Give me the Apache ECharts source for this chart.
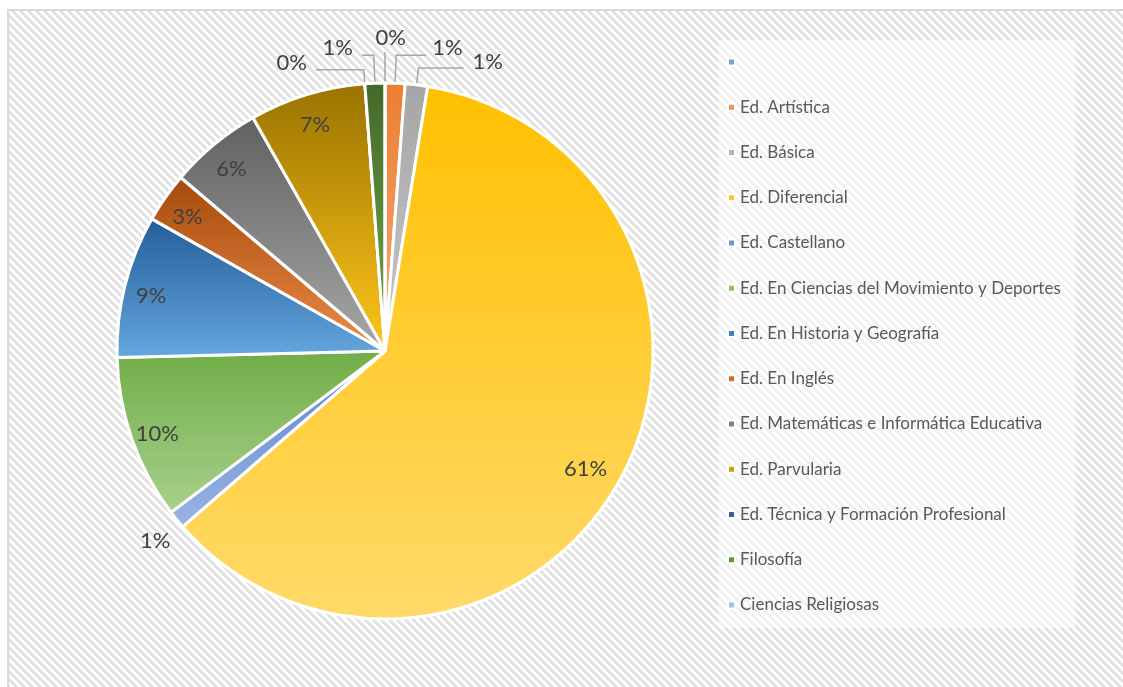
<!DOCTYPE html>
<html>
<head>
<meta charset="utf-8">
<style>
  body{ margin:0; background:#fff; }
  #main{ width:1123px; height:687px; }
</style>
<script src="https://cdn.jsdelivr.net/npm/echarts@6/dist/echarts.min.js"></script>
</head>
<body>
<div id="main"></div>
<script>
// datos
var categories = [' ', 'Ed. Artística', 'Ed. Básica', 'Ed. Diferencial', 'Ed. Castellano',
  'Ed. En Ciencias del Movimiento y Deportes', 'Ed. En Historia y Geografía', 'Ed. En Inglés',
  'Ed. Matemáticas e Informática Educativa', 'Ed. Parvularia', 'Ed. Técnica y Formación Profesional',
  'Filosofía', 'Ciencias Religiosas'];
var values = [null, 1.2, 1.35, 61.1, 1.1, 9.9, 8.6, 3.0, 5.6, 7.0, 0, 1.2, 0];

// colores (arriba oscuro -> abajo claro) y color de leyenda
var sliceTop = ['#5b9bd5', '#ed7d31', '#a5a5a5', '#ffc000', '#5b84cc', '#70ad47', '#235d96', '#a44a0c', '#606060', '#9a7300', '#264478', '#43682b', '#7cafdd'];
var sliceBottom = ['#9dc3e6', '#f4ac7a', '#c9c9c9', '#ffda6a', '#9bb5e3', '#a9d18e', '#65a7e0', '#ee8c48', '#a8a8a8', '#ffc61a', '#4472c4', '#70ad47', '#bdd7ee'];
var legendColors = ['#6fa8dc', '#f0955a', '#b4b4b4', '#ffc933', '#6e96d6', '#8cc168', '#3b82c4', '#d9681f', '#7f7f7f', '#cfa000', '#3a60a8', '#5b9a3b', '#9dc3e6'];

// etiquetas dentro (grandes) / fuera (chicas)
var insideIdx = [3, 5, 6, 7, 8, 9];
// largo de lineas guia para etiquetas de afuera
var leader = {
  1: [28, 30], 2: [17, 45], 4: [16, 0], 10: [14, 48], 11: [28, 12], 12: [30, 1]
};
// pequeños corrimientos de texto
var shiftOut = { 1: [2, -7], 2: [5, -6], 4: [10, 11], 10: [-5, -7], 11: [-5, -7], 12: [26, -15] };
var shiftIn = { 3: [-10, 1] };

function stripes() {
  var c = document.createElement('canvas');
  c.width = 8; c.height = 8;
  var g = c.getContext('2d');
  g.fillStyle = '#ffffff';
  g.fillRect(0, 0, 8, 8);
  g.fillStyle = '#e2e2e2';
  for (var y = 0; y < 8; y++) {
    for (var x = 0; x < 8; x++) {
      if (((x - y) % 8 + 8) % 8 < 4) g.fillRect(x, y, 1, 1);
    }
  }
  return c;
}

var font = 'Lato, "Open Sans", sans-serif';
var pct = function (p) { return Math.round(p.percent) + '%'; };

var outerData = [], innerData = [];
categories.forEach(function (name, i) {
  var inside = insideIdx.indexOf(i) >= 0;
  var ll = leader[i] || [15, 15];
  outerData.push({
    name: name,
    value: values[i],
    itemStyle: {
      color: { type: 'linear', x: 0, y: 0, x2: 0, y2: 1,
        colorStops: [{ offset: 0, color: sliceTop[i] }, { offset: 1, color: sliceBottom[i] }] }
    },
    label: { show: !inside && values[i] != null },
    labelLine: { show: !inside && values[i] != null && i !== 4, length: ll[0], length2: ll[1] }
  });
  innerData.push({
    name: name,
    value: values[i],
    label: { show: inside }
  });
});

var chart = echarts.init(document.getElementById('main'));
chart.setOption({
  backgroundColor: '#ffffff',
  animation: false,
  graphic: [{
    type: 'rect',
    z: -10,
    shape: { x: 8, y: 10, width: 1130, height: 690 },
    style: { fill: { image: stripes(), repeat: 'repeat' }, stroke: '#d9d9d9', lineWidth: 2 }
  }],
  legend: {
    orient: 'vertical',
    left: 718,
    top: 40,
    padding: [12, 15, 13, 9],
    backgroundColor: 'rgba(255,255,255,0.5)',
    icon: 'rect',
    itemWidth: 7,
    itemHeight: 7,
    itemGap: 25.25,
    textStyle: { fontFamily: font, fontSize: 17, color: '#595959', lineHeight: 20 },
    data: categories.map(function (n, i) { return { name: n, itemStyle: { color: legendColors[i] } }; })
  },
  series: [{
    type: 'pie',
    center: [385, 351],
    radius: [0, 268],
    startAngle: 90,
    avoidLabelOverlap: false,
    silent: true,
    itemStyle: { borderColor: '#ffffff', borderWidth: 3 },
    label: { position: 'outside', formatter: pct, fontFamily: font, fontSize: 22, color: '#404040',
      distanceToLabelLine: 4 },
    labelLine: { lineStyle: { color: '#a6a6a6', width: 1.5 } },
    labelLayout: function (p) {
      var s = shiftOut[p.dataIndex];
      if (s) return { dx: s[0], dy: s[1] };
    },
    data: outerData
  }, {
    type: 'pie',
    center: [385, 351],
    radius: [208, 268],
    startAngle: 90,
    silent: true,
    z: 5,
    itemStyle: { color: 'rgba(0,0,0,0)', borderWidth: 0 },
    label: { position: 'inside', formatter: pct, fontFamily: font, fontSize: 22, color: '#404040' },
    labelLine: { show: false },
    labelLayout: function (p) {
      var s = shiftIn[p.dataIndex] || [0, 4];
      return { dx: s[0], dy: s[1] };
    },
    data: innerData
  }]
});
</script>
</body>
</html>
